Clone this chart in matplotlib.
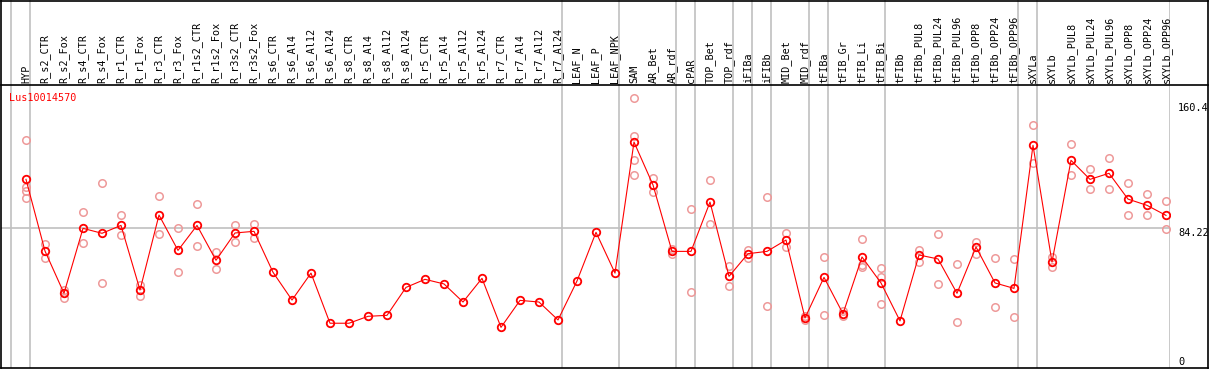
#!/usr/bin/env python3

import matplotlib
matplotlib.use("Agg")
import matplotlib.pyplot as plt
from matplotlib.lines import Line2D

# ---------------------------------------------------------
# data (expression of Lus10014570)
# ---------------------------------------------------------
gene = "Lus10014570"

samples = [
    "HYP",
    "R_s2_CTR", "R_s2_Fox", "R_s4_CTR", "R_s4_Fox", "R_r1_CTR", "R_r1_Fox",
    "R_r3_CTR", "R_r3_Fox", "R_r1s2_CTR", "R_r1s2_Fox", "R_r3s2_CTR", "R_r3s2_Fox",
    "R_s6_CTR", "R_s6_Al4", "R_s6_Al12", "R_s6_Al24",
    "R_s8_CTR", "R_s8_Al4", "R_s8_Al12", "R_s8_Al24",
    "R_r5_CTR", "R_r5_Al4", "R_r5_Al12", "R_r5_Al24",
    "R_r7_CTR", "R_r7_Al4", "R_r7_Al12", "R_r7_Al24",
    "LEAF_N", "LEAF_P", "LEAF_NPK",
    "SAM", "AR_Bet", "AR_rdf", "cPAR", "TOP_Bet", "TOP_rdf",
    "iFIBa", "iFIBb", "MID_Bet", "MID_rdf",
    "tFIBa", "tFIB_Gr", "tFIB_Li", "tFIB_Bi",
    "tFIBb", "tFIBb_PUL8", "tFIBb_PUL24", "tFIBb_PUL96",
    "tFIBb_OPP8", "tFIBb_OPP24", "tFIBb_OPP96",
    "sXYLa", "sXYLb", "sXYLb_PUL8", "sXYLb_PUL24", "sXYLb_PUL96",
    "sXYLb_OPP8", "sXYLb_OPP24", "sXYLb_OPP96",
]

means = [
    114.0,
    70.4, 44.7, 84.2, 81.2, 86.0, 46.7,
    92.3, 70.8, 86.0, 64.8, 81.4, 82.4,
    57.5, 40.6, 57.0, 26.5,
    26.5, 30.7, 31.3, 48.3,
    53.2, 50.4, 39.4, 53.8,
    24.0, 40.4, 39.4, 28.5,
    52.2, 81.8, 57.0,
    136.7, 110.6, 70.2, 70.2, 100.2, 55.0,
    68.8, 70.2, 77.1, 29.7,
    54.4, 32.3, 66.8, 51.0,
    27.9, 68.0, 65.6, 44.7,
    72.9, 51.0, 47.7,
    134.7, 63.7, 125.6, 114.0, 117.7,
    102.0, 98.2, 92.1,
]

replicates = [
    [137.7, 109.2, 107.1, 102.5],
    [74.5, 66.3], [46.7, 41.8], [94.0, 75.3], [111.6, 50.8], [92.1, 80.0], [49.7, 43.2],
    [103.7, 80.6], [84.2, 57.5], [98.8, 73.3], [69.8, 59.3], [86.2, 76.1], [86.8, 78.5],
    [], [], [], [],
    [], [], [], [],
    [], [], [], [],
    [], [], [], [],
    [], [], [],
    [163.3, 140.3, 125.6, 116.5], [114.8, 106.1], [71.6, 68.8], [95.8, 45.3],
    [113.6, 86.7], [61.3, 49.0],
    [70.8, 66.3], [103.3, 36.8], [81.4, 72.7], [31.0, 28.5],
    [66.8, 31.3], [33.9, 31.1], [77.5, 61.7, 60.5], [59.9, 54.8, 38.2],
    [], [71.0, 63.9], [80.6, 50.2], [62.5, 27.1],
    [75.7, 68.8], [66.0, 36.2], [65.4, 30.1],
    [146.9, 123.8], [66.6, 60.5], [135.3, 116.5], [120.1, 107.9], [126.8, 107.9],
    [111.6, 92.1], [104.9, 92.1], [100.6, 83.6],
]

# first sample index of every tissue group (last entry closes the chart)
group_starts = [0, 1, 29, 32, 35, 36, 38, 39, 40, 42, 43, 46, 53, 54, 61]

y_ticks = [160.4, 84.22, 0]
y_tick_labels = ["160.4", "84.22", "0"]

# ---------------------------------------------------------
W, H = 1209, 370
GREY = "#c0c0c0"
RED = "#ff0000"
PINK = "#ee9999"
MONO = ["DejaVu Sans Mono"]

fig = plt.figure(figsize=(W / 100, H / 100), dpi=100)

# pixel geometry of the reference
left_px, right_px = 1, 1170
plot_top_px, plot_bot_px = 85, 368
x0, x1 = -1.3158, 60.2105
y0, y1 = -0.73, 171.4

ax = fig.add_axes([left_px / W, (H - plot_bot_px) / H,
                   (right_px - left_px) / W, (plot_bot_px - plot_top_px) / H])
lab = fig.add_axes([left_px / W, (H - plot_top_px) / H,
                    (right_px - left_px) / W, plot_top_px / H])

for a in (ax, lab):
    a.set_xlim(x0, x1)
    a.set_xticks([])
    a.set_yticks([])
    for s in a.spines.values():
        s.set_visible(False)
ax.set_ylim(y0, y1)
lab.set_ylim(0, 1)

# group separators
for g in group_starts:
    xs = g - 15 / 19
    ax.axvline(xs, color=GREY, lw=1.2, zorder=1)
    lab.axvline(xs, color=GREY, lw=1.2, zorder=1)

ax.axhline(y_ticks[1], color=GREY, lw=1.2, zorder=1)

# sample labels (rotated)
for i, name in enumerate(samples):
    lab.text(i, 0.025, name, rotation=90, ha="center", va="bottom",
             fontsize=7.3, family=MONO, color="black")

# replicates
for i, reps in enumerate(replicates):
    if reps:
        ax.plot([i] * len(reps), reps, linestyle="none", marker="o",
                markersize=5.4, markerfacecolor="none", markeredgecolor=PINK,
                markeredgewidth=1.1, zorder=2)

# means
ax.plot(range(len(means)), means, color=RED, lw=0.8, marker="o",
        markersize=5.4, markerfacecolor="none", markeredgecolor=RED,
        markeredgewidth=1.3, zorder=3)

ax.text(0.007, 0.955, gene, transform=ax.transAxes, color=RED,
        fontsize=7.3, family=MONO, ha="left", va="center")

# value labels on the right
for v, t in zip(y_ticks, y_tick_labels):
    va = "bottom" if v == 0 else "top"
    ax.text(1.0068, v, t, transform=ax.get_yaxis_transform(), ha="left",
            va=va, fontsize=7.4, family=MONO, color="black", clip_on=False)

# black frame lines in pixel coordinates
def px_line(xa, ya, xb, yb):
    fig.add_artist(Line2D([xa / W, xb / W], [1 - ya / H, 1 - yb / H],
                          color="black", lw=1.2, transform=fig.transFigure))

px_line(1, 0.5, 1208, 0.5)
px_line(1, 85, 1208, 85)
px_line(1, 368, 1208, 368)
px_line(1.2, 0, 1.2, 368)
px_line(1208, 0, 1208, 368)

fig.savefig("out.png", dpi=100, facecolor="white")
